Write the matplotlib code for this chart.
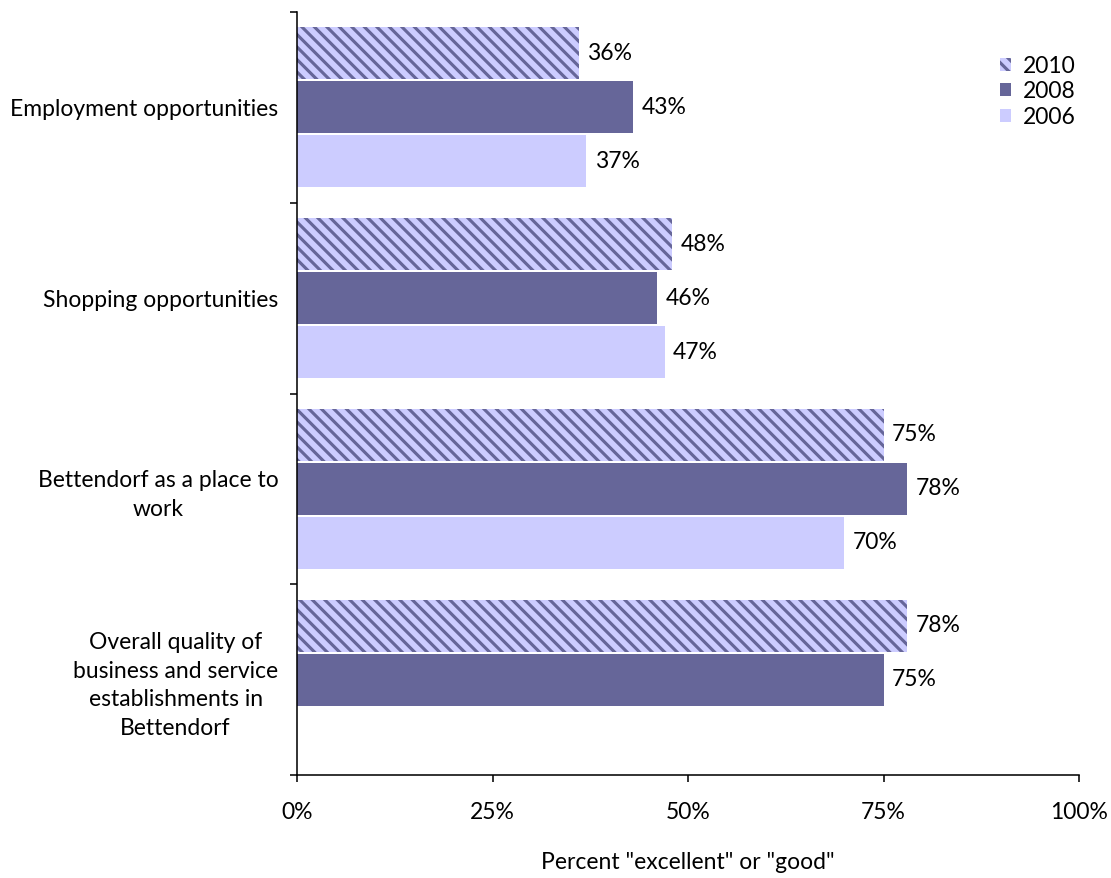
import matplotlib.pyplot as plt
import numpy as np

plt.rcParams['font.family'] = ['Lato', 'DejaVu Sans']
plt.rcParams['hatch.color'] = '#666699'
plt.rcParams['hatch.linewidth'] = 3.0

categories = ['Employment opportunities', 'Shopping opportunities',
              'Bettendorf as a place to\nwork',
              'Overall quality of\nbusiness and service\nestablishments in\nBettendorf']
v2010 = [36, 48, 75, 78]
v2008 = [43, 46, 78, 75]
v2006 = [37, 47, 70, None]
xticks = [0, 25, 50, 75, 100]

# dpi 75 so the hatch spacing comes out close to the original
fig = plt.figure(figsize=(1111 / 75, 878 / 75), dpi=75)
ax = fig.add_axes([297 / 1111, 1 - 775 / 878, (1079 - 297) / 1111, (775 - 12) / 878])

y = np.arange(len(categories))
h = 0.273
step = 0.283
series = [('2010', v2010, '#CCCCFF', '\\\\'), ('2008', v2008, '#666699', None),
          ('2006', v2006, '#CCCCFF', None)]
fs = 22
for i, (name, vals, col, hatch) in enumerate(series):
    pos = y + (i - 1) * step
    idx = [k for k, v in enumerate(vals) if v is not None]
    ax.barh(pos[idx], [vals[k] for k in idx], height=h, color=col,
            edgecolor='#666699' if hatch else col, linewidth=0, hatch=hatch, label=name)
    for k in idx:
        ax.text(vals[k] + 1.1, pos[k], f'{vals[k]}%', va='center', ha='left', fontsize=fs)

ax.set_xlim(0, 100)
ax.set_ylim(3.5, -0.5)
ax.set_xticks(xticks)
ax.set_xticklabels([f'{t}%' for t in xticks], fontsize=fs)
ax.set_yticks(np.arange(-0.5, 4.0, 1.0))
ax.set_yticklabels([])
ax.set_yticks(y, minor=True)
ax.set_yticklabels(categories, minor=True, fontsize=fs, multialignment='center',
                   linespacing=1.45)
ax.tick_params(axis='y', which='minor', length=0, pad=18)
ax.tick_params(axis='y', which='major', length=7, width=1.5)
ax.tick_params(axis='x', length=7, width=1.5, pad=19)
for s in ['top', 'right']:
    ax.spines[s].set_visible(False)
for s in ['left', 'bottom']:
    ax.spines[s].set_linewidth(1.5)

ax.set_xlabel('Percent "excellent" or "good"', fontsize=fs, labelpad=28)
ax.legend(loc='upper right', bbox_to_anchor=(1.022, 0.97), frameon=False, fontsize=fs,
          handlelength=0.5, handleheight=0.5, handletextpad=0.5, labelspacing=0.2)

fig.savefig('out.png', dpi=75)
